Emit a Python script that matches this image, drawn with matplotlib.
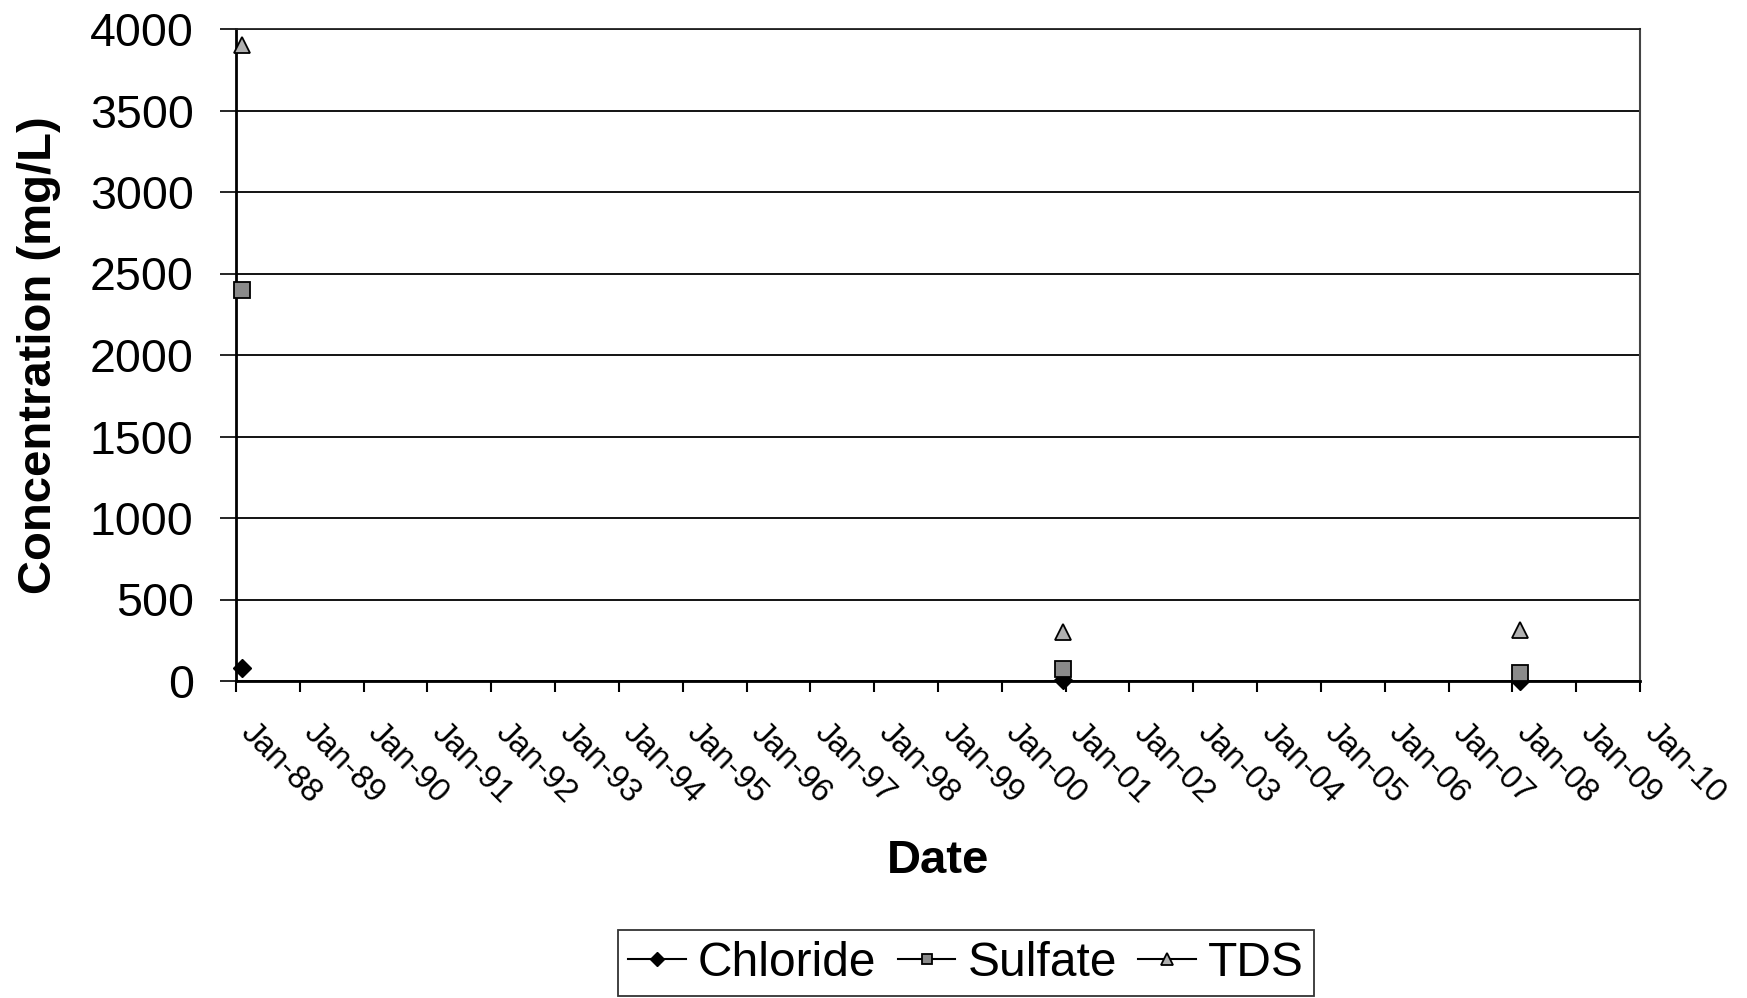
import matplotlib
matplotlib.use("Agg")
import matplotlib.pyplot as plt
import matplotlib.dates as mdates
import matplotlib.transforms as mtransforms
from matplotlib.lines import Line2D
import datetime as dt

# ---- data ----
sample_dates = ["1988-02-04", "2000-12-17", "2008-02-14"]
chloride = [80, 5, 0]
sulfate = [2400, 72, 50]
tds = [3900, 300, 310]
series_names = ["Chloride", "Sulfate", "TDS"]
tick_years = list(range(1988, 2011))
y_ticks = list(range(0, 4001, 500))

plt.rcParams["font.family"] = ["Liberation Sans", "DejaVu Sans"]

fig = plt.figure(figsize=(17.47, 9.98), dpi=100)
ax = fig.add_axes([236 / 1747, 1 - 681 / 998, (1640 - 236) / 1747, (681 - 29) / 998])

x = [mdates.date2num(dt.datetime.strptime(d, "%Y-%m-%d")) for d in sample_dates]

styles = {
    "Chloride": dict(marker="D", markersize=9.5, markerfacecolor="black", markeredgecolor="black"),
    "Sulfate": dict(marker="s", markersize=11, markerfacecolor="#8a8a8a", markeredgecolor="black", markeredgewidth=1.3),
    "TDS": dict(marker="^", markersize=12, markerfacecolor="#b0b0b0", markeredgecolor="black", markeredgewidth=1.3),
}
for name, vals in zip(series_names, [chloride, sulfate, tds]):
    ax.plot(x, vals, linestyle="none", clip_on=False, zorder=5, **styles[name])

ticks = [mdates.date2num(dt.datetime(y, 1, 1)) for y in tick_years]
ax.set_xlim(ticks[0], ticks[-1])
ax.set_xticks(ticks)
ax.set_xticklabels([dt.datetime(y, 1, 1).strftime("%b-%y") for y in tick_years],
                   rotation=-45, ha="left", va="center", rotation_mode="anchor", fontsize=23.5)
ax.set_ylim(0, 4000)
ax.set_yticks(y_ticks)
ax.set_yticklabels([str(v) for v in y_ticks], fontsize=33.5)

ax.tick_params(axis="x", direction="out", length=8, width=1.5, pad=26)
ax.tick_params(axis="y", direction="out", length=11.5, width=1.2, pad=19)

offset = mtransforms.ScaledTranslation(9 / 100, 0, fig.dpi_scale_trans)
for lab in ax.get_xticklabels():
    lab.set_transform(lab.get_transform() + offset)

ax.grid(axis="y", color="black", linewidth=1.3)
ax.set_axisbelow(True)
for s in ["left", "bottom"]:
    ax.spines[s].set_linewidth(2)
    ax.spines[s].set_color("black")
ax.spines["top"].set_linewidth(1.3)
ax.spines["top"].set_color("#222222")
ax.spines["right"].set_linewidth(1.5)
ax.spines["right"].set_color("#444444")

ax.set_xlabel("Date", fontsize=34, fontweight="bold")
ax.xaxis.set_label_coords(0.5, (681 - 861) / 652)
ax.xaxis.label.set_va("center")
ax.set_ylabel("Concentration (mg/L)", fontsize=34, fontweight="bold")
ax.yaxis.set_label_coords((39 - 236) / 1404, 0.5)
ax.yaxis.label.set_va("center")

handles = []
for name in series_names:
    st = dict(styles[name])
    st["markersize"] = st["markersize"] * 0.7
    handles.append(Line2D([], [], color="black", linewidth=1.5, **st))
leg = fig.legend(handles, series_names, loc="center", bbox_to_anchor=(966 / 1747, 1 - 963 / 998),
                 ncol=3, fontsize=34.5, frameon=True, fancybox=False, shadow=False,
                 handlelength=1.2, handletextpad=0.25, columnspacing=0.45, borderpad=0.22,
                 borderaxespad=0)
leg.get_frame().set_edgecolor("black")
leg.get_frame().set_linewidth(1.3)

fig.savefig("out.png", dpi=100)
